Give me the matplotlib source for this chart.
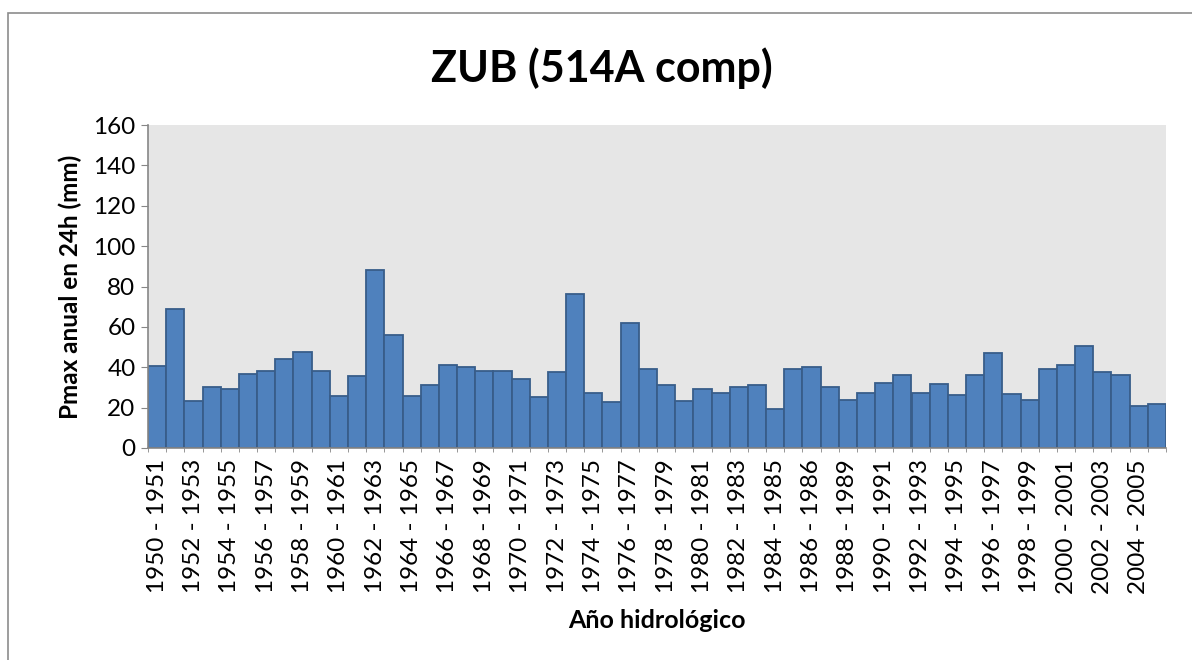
import matplotlib.pyplot as plt
import numpy as np
from matplotlib.patches import Rectangle

# Año hidrológico (one label per bar, every other one is shown)
years = [
    "1950 - 1951", "1951 - 1952", "1952 - 1953", "1953 - 1954", "1954 - 1955",
    "1955 - 1956", "1956 - 1957", "1957 - 1958", "1958 - 1959", "1959 - 1960",
    "1960 - 1961", "1961 - 1962", "1962 - 1963", "1963 - 1964", "1964 - 1965",
    "1965 - 1966", "1966 - 1967", "1967 - 1968", "1968 - 1969", "1969 - 1970",
    "1970 - 1971", "1971 - 1972", "1972 - 1973", "1973 - 1974", "1974 - 1975",
    "1975 - 1976", "1976 - 1977", "1977 - 1978", "1978 - 1979", "1979 - 1980",
    "1980 - 1981", "1981 - 1982", "1982 - 1983", "1983 - 1984", "1984 - 1985",
    "1985 - 1986", "1986 - 1986", "1987 - 1988", "1988 - 1989", "1989 - 1990",
    "1990 - 1991", "1991 - 1992", "1992 - 1993", "1993 - 1994", "1994 - 1995",
    "1995 - 1996", "1996 - 1997", "1997 - 1998", "1998 - 1999", "1999 - 2000",
    "2000 - 2001", "2001 - 2002", "2002 - 2003", "2003 - 2004", "2004 - 2005",
    "2005 - 2006",
]

# Pmax anual en 24h (mm)
pmax = [
    40.4, 68.9, 23.1, 30.2, 29.4, 36.8, 37.9, 44.0, 47.8, 38.3,
    25.6, 35.8, 88.2, 56.2, 25.6, 31.0, 41.2, 40.1, 38.3, 38.3,
    34.1, 25.1, 37.4, 76.4, 27.2, 22.8, 61.9, 39.1, 31.0, 23.4,
    29.2, 27.2, 30.2, 31.0, 19.3, 39.3, 39.9, 30.2, 23.9, 27.2,
    32.2, 36.3, 27.2, 31.7, 26.1, 36.0, 47.3, 26.7, 23.9, 39.1,
    41.2, 50.6, 37.4, 36.3, 20.6, 21.8,
]

yticks = [0, 20, 40, 60, 80, 100, 120, 140, 160]

plt.rcParams['font.family'] = ['Lato', 'DejaVu Sans']

fig = plt.figure(figsize=(11.92, 6.6), dpi=100)
ax = fig.add_axes([148 / 1192, 1 - 448 / 660, (1166 - 148) / 1192, (448 - 125) / 660])

# outer chart border (only left and top edges are visible in the frame)
fig.patches.append(Rectangle((8 / 1192, -0.1), 1.2, 1 - 13 / 660 + 0.1,
                             transform=fig.transFigure, fill=False,
                             edgecolor="#8c8c8c", linewidth=1.2))

x = np.arange(len(pmax))
ax.bar(x, pmax, width=1.0, color="#4F81BD", edgecolor="#385D8A", linewidth=1.3)

ax.set_facecolor("#E6E6E6")
ax.set_xlim(-0.5, len(pmax) - 0.5)
ax.set_ylim(0, 160)
ax.set_yticks(yticks)
ax.tick_params(axis='y', labelsize=17.5, length=5, color="#868686", pad=4)

ax.set_xticks(x[::2])
ax.set_xticklabels(years[::2], rotation=90, fontsize=17.5)
ax.tick_params(axis='x', length=0, pad=8)
ax.set_xticks(np.arange(len(pmax) + 1) - 0.5, minor=True)
ax.tick_params(axis='x', which='minor', length=3, color="#868686")

for side in ["top", "right"]:
    ax.spines[side].set_visible(False)
for side in ["left", "bottom"]:
    ax.spines[side].set_color("#868686")
    ax.spines[side].set_linewidth(1.2)

ax.set_ylabel("Pmax anual en 24h (mm)", fontsize=17.5, fontweight="bold", labelpad=8)
ax.set_xlabel("Año hidrológico", fontsize=18, fontweight="bold", labelpad=11)
fig.text(0.505, 1 - 68 / 660, "ZUB (514A comp)", ha="center", va="center",
         fontsize=31, fontweight="bold")

fig.savefig("out.png", dpi=100)
